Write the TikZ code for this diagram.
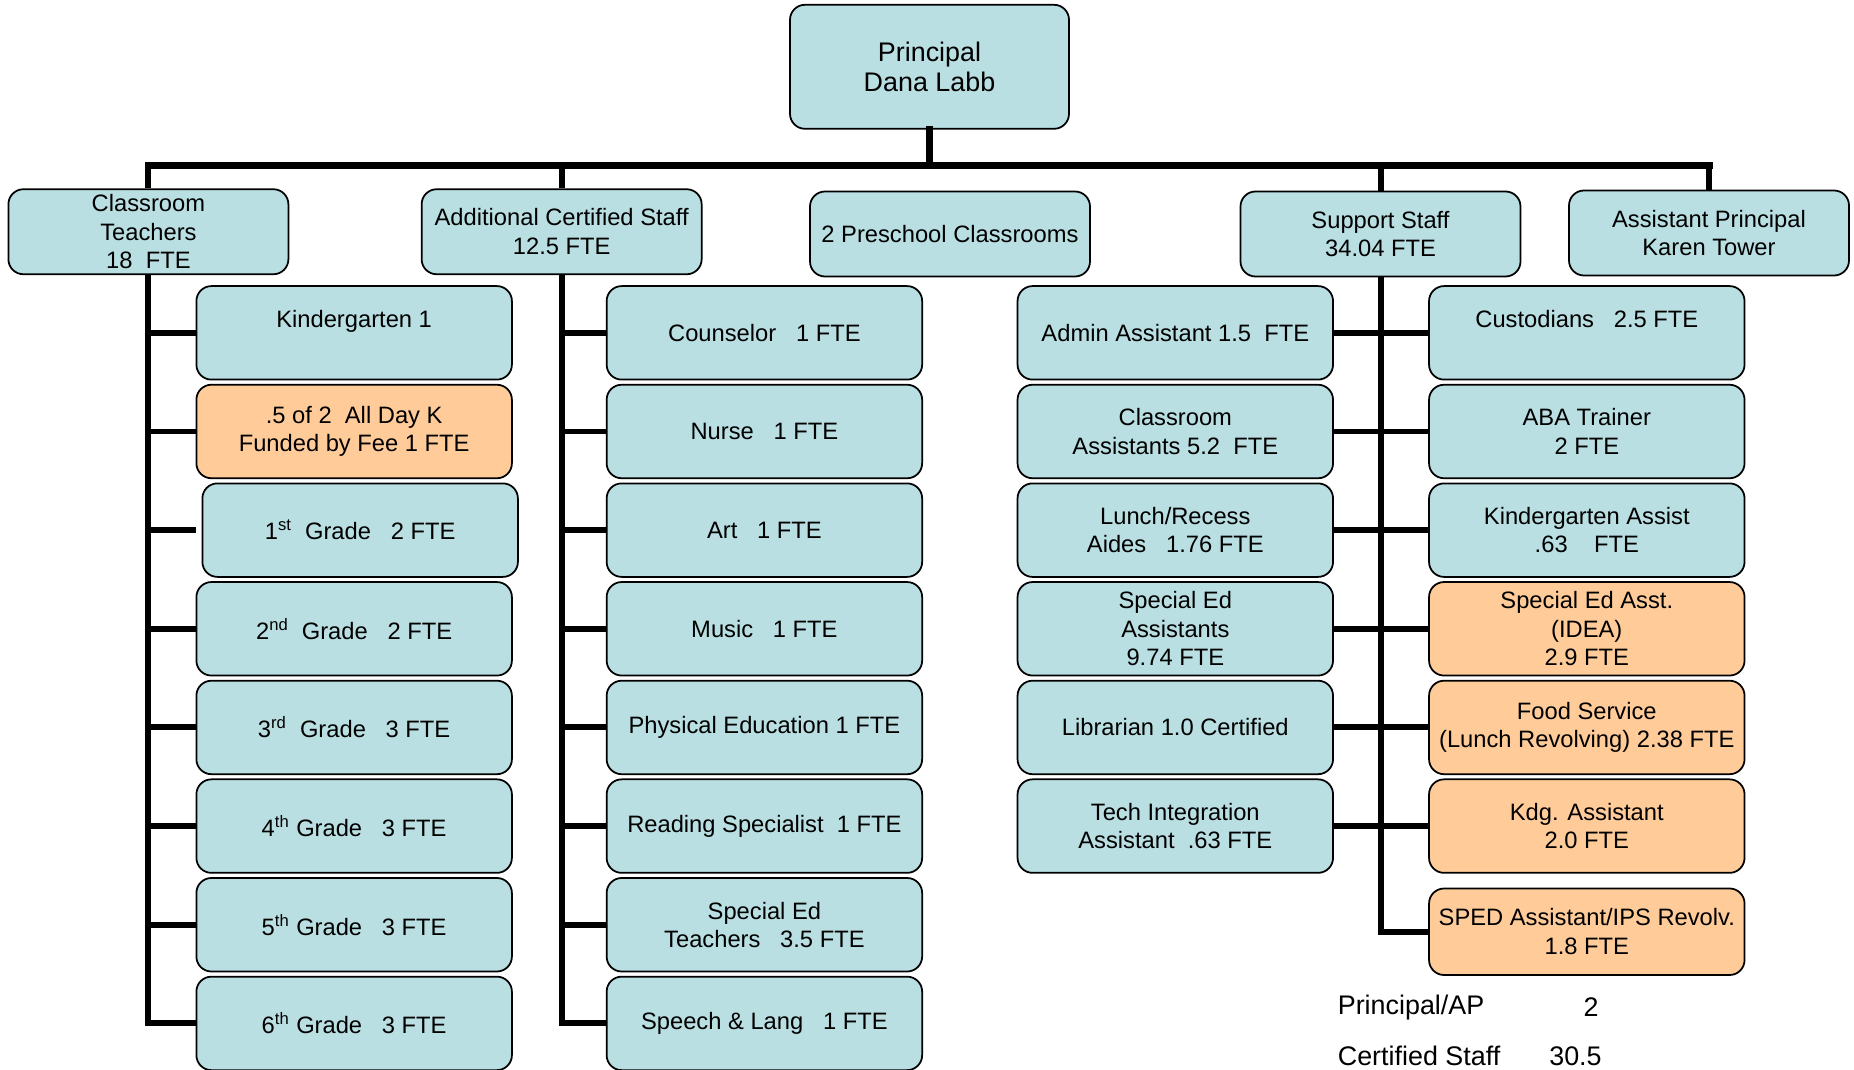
\documentclass[tikz,border=0pt]{standalone}
\usepackage{fontspec}
\setmainfont{Liberation Sans}
\usepackage{tikz}
\usetikzlibrary{positioning}
\definecolor{boxblue}{RGB}{185,223,226}
\definecolor{boxorange}{RGB}{255,204,153}

\begin{document}
\begin{tikzpicture}[node distance=1.973cm, font=\fontsize{13.5}{16.2}\selectfont,
  unit/.style={draw, line width=1pt, rounded corners=0.3cm, fill=boxblue, align=center, minimum width=6.31cm, minimum height=1.87cm, inner sep=1pt},
  head/.style={unit, minimum width=5.6cm, minimum height=1.70cm},
  fee/.style={unit, fill=boxorange},
  total/.style={inner sep=0pt, font=\fontsize{15.3}{18}\selectfont},
  bus/.style={line width=4pt, line cap=rect},
  link/.style={line width=3.4pt}]
\useasboundingbox (0,0) rectangle (37.08,-21.40);

% top row
\node [head, minimum width=5.58cm, minimum height=2.48cm, font=\fontsize{15.3}{17.5}\selectfont] (prin) at (18.59,-1.336) {Principal\\Dana Labb};
\node [head] (ct) at (2.968,-4.635) {Classroom\\Teachers\\18\ \ FTE};
\node [head] (acs) at (11.233,-4.635) {Additional Certified Staff\\12.5 FTE};
\node [head] (pre) at (19.00,-4.68) {2 Preschool Classrooms};
\node [head] (ss) at (27.61,-4.68) {Support Staff\\34.04 FTE};
\node [head] (ap) at (34.18,-4.66) {Assistant Principal\\Karen Tower};

% classroom teachers
\node [unit] (kd) at (7.083,-6.657) {Kindergarten 1\\ \mbox{}};
\node [fee] (kf) [below of=kd] {.5 of 2\ \ All Day K\\Funded by Fee 1 FTE};
\node [unit] (g1) [below of=kf, xshift=0.12cm] {1\textsuperscript{st}\ \ Grade\ \ \ 2 FTE};
\node [unit] (g2) [below of=g1, xshift=-0.12cm] {2\textsuperscript{nd}\ \ Grade\ \ \ 2 FTE};
\node [unit] (g3) [below of=g2] {3\textsuperscript{rd}\ \ Grade\ \ \ 3 FTE};
\node [unit] (g4) [below of=g3] {4\textsuperscript{th} Grade\ \ \ 3 FTE};
\node [unit] (g5) [below of=g4] {5\textsuperscript{th} Grade\ \ \ 3 FTE};
\node [unit] (g6) [below of=g5] {6\textsuperscript{th} Grade\ \ \ 3 FTE};

% additional certified staff
\node [unit] (cou) at (15.288,-6.657) {Counselor\ \ \ 1 FTE};
\node [unit] (nur) [below of=cou] {Nurse\ \ \ 1 FTE};
\node [unit] (art) [below of=nur] {Art\ \ \ 1 FTE};
\node [unit] (mus) [below of=art] {Music\ \ \ 1 FTE};
\node [unit] (pe) [below of=mus] {Physical Education 1 FTE};
\node [unit] (rs) [below of=pe] {Reading Specialist\ \ 1 FTE};
\node [unit] (set) [below of=rs] {Special Ed\\Teachers\ \ \ 3.5 FTE};
\node [unit] (sl) [below of=set] {Speech \& Lang\ \ \ 1 FTE};

% support staff, left
\node [unit] (adm) at (23.506,-6.657) {Admin Assistant 1.5\ \ FTE};
\node [unit] (cla) [below of=adm] {Classroom\\Assistants 5.2\ \ FTE};
\node [unit] (lun) [below of=cla] {Lunch/Recess\\Aides\ \ \ 1.76 FTE};
\node [unit] (sea) [below of=lun] {Special Ed\\Assistants\\9.74 FTE};
\node [unit] (lib) [below of=sea] {Librarian 1.0 Certified};
\node [unit] (tec) [below of=lib] {Tech Integration\\Assistant\ \ .63 FTE};

% support staff, right
\node [unit] (cus) at (31.736,-6.657) {Custodians\ \ \ 2.5 FTE\\ \mbox{}};
\node [unit] (aba) [below of=cus] {ABA Trainer\\2 FTE};
\node [unit] (kas) [below of=aba] {Kindergarten Assist\\.63\ \ \ \ FTE};
\node [fee] (idea) [below of=kas] {Special Ed Asst.\\(IDEA)\\2.9 FTE};
\node [fee] (food) [below of=idea] {Food Service\\(Lunch Revolving) 2.38 FTE};
\node [fee] (kdg) [below of=food] {Kdg. Assistant\\2.0 FTE};
\node [fee, minimum height=1.73cm] (sped) [below of=kdg, yshift=-0.14cm] {SPED Assistant/IPS Revolv.\\1.8 FTE};

% totals
\node [total, anchor=west] (sumap) at (26.75,-20.15) {Principal/AP};
\node [total, anchor=east] (numap) at (31.98,-20.15) {2};
\node [total, anchor=west] (sumcs) at (26.75,-21.12) {Certified Staff};
\node [total, anchor=east] (numcs) at (32.04,-21.12) {30.5};

% lines
\coordinate (bus) at (18.59,-3.311);
\draw [bus] (prin.south) -- (bus);
\draw [bus] (ct.north |- bus) -- (ap.north |- bus);
\foreach \n in {ct,acs,ss,ap}
  \draw [link] (\n.north) -- (\n.north |- bus);

\foreach \n in {kd,kf,g2,g3,g4,g5,g6}
  \draw [link] (ct.south) |- (\n.west);
\draw [link] (ct.south) |- (kd.west |- g1.west);

\foreach \n in {cou,nur,art,mus,pe,rs,set,sl}
  \draw [link] (acs.south) |- (\n.west);

\draw [link] (ss.south) |- (sped.west);
\foreach \a/\b in {adm/cus,cla/aba,lun/kas,sea/idea,lib/food,tec/kdg}
  \draw [link] (\a.east) -- (\b.west);

\end{tikzpicture}
\end{document}
